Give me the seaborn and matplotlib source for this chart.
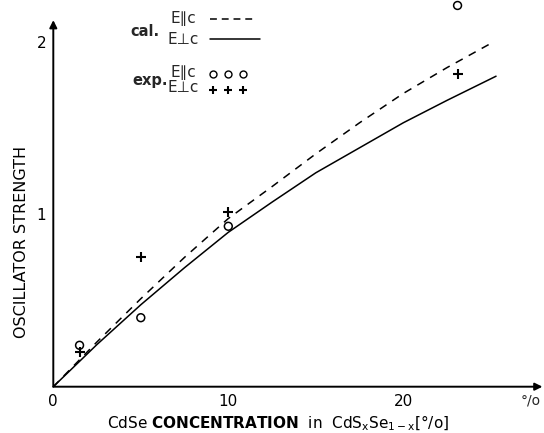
import matplotlib
matplotlib.use("Agg")
import matplotlib.pyplot as plt
import seaborn as sns
import pandas as pd
from matplotlib.lines import Line2D

# ---- data ----
cal_par_x = [0, 2.5, 5, 7.5, 10, 12.5, 15, 17.5, 20, 22.5, 25]
cal_par_y = [0, 0.26, 0.51, 0.75, 0.975, 1.16, 1.35, 1.53, 1.70, 1.85, 1.99]
cal_perp_x = [0, 2.5, 5, 7.5, 10, 12.5, 15, 17.5, 20, 22.5, 25.3]
cal_perp_y = [0, 0.245, 0.475, 0.69, 0.895, 1.07, 1.24, 1.385, 1.53, 1.66, 1.80]
exp_x = [1.5, 5.0, 10.0, 23.1]
exp_par_y = [0.24, 0.40, 0.93, 2.21]
exp_perp_y = [0.20, 0.75, 1.01, 1.81]
x_ticks = [0, 10, 20]
y_ticks = [1, 2]

sns.set_theme(style="white")
plt.rcParams['font.family'] = ['DejaVu Sans']
plt.rcParams['mathtext.fontset'] = 'dejavusans'

W, H = 544, 433
fig = plt.figure(figsize=(W / 100, H / 100), dpi=100)
fig.patch.set_facecolor('white')

def fx(px):
    return px / W

def fy(py):
    return 1 - py / H

ax_l, ax_r, ax_b, ax_t = 53.3, 543.3, 386.7, 0.3
ax = fig.add_axes([fx(ax_l), fy(ax_b), (ax_r - ax_l) / W, (ax_b - ax_t) / H])
ax.set_facecolor('white')
ax.set_xlim(0, 28)
ax.set_ylim(0, 2.24)

df_par = pd.DataFrame({'x': cal_par_x, 'y': cal_par_y})
df_perp = pd.DataFrame({'x': cal_perp_x, 'y': cal_perp_y})
sns.lineplot(data=df_par, x='x', y='y', ax=ax, color='black', lw=1.1)
ax.lines[-1].set_dashes((5.2, 4.5))
sns.lineplot(data=df_perp, x='x', y='y', ax=ax, color='black', lw=1.1)

df_exp = pd.DataFrame({'x': exp_x, 'par': exp_par_y, 'perp': exp_perp_y})
sns.scatterplot(data=df_exp, x='x', y='par', ax=ax, marker='o', s=32,
                facecolor='none', edgecolor='black', linewidth=1.1, zorder=5)
sns.scatterplot(data=df_exp, x='x', y='perp', ax=ax, marker='+', s=45,
                color='black', linewidth=1.5, zorder=5)

for sp in ax.spines.values():
    sp.set_visible(False)
ax.grid(False)

# axes with arrows
ax.annotate('', xy=(27.95, 0), xytext=(0, 0), xycoords='data',
            arrowprops=dict(arrowstyle='-|>', lw=1.4, color='black',
                            mutation_scale=11, shrinkA=0, shrinkB=0),
            annotation_clip=False)
ax.annotate('', xy=(0, 2.125), xytext=(0, 0), xycoords='data',
            arrowprops=dict(arrowstyle='-|>', lw=1.4, color='black',
                            mutation_scale=11, shrinkA=0, shrinkB=0),
            annotation_clip=False)

ax.set_xticks(x_ticks)
ax.set_xticklabels([str(t) for t in x_ticks])
ax.set_yticks(y_ticks)
ax.set_yticklabels([str(t) for t in y_ticks])
ax.tick_params(axis='both', direction='out', length=3, width=1.0,
               color='black', labelsize=11, labelcolor='black', pad=2)
ax.tick_params(axis='x', length=0, pad=5)

ax.set_xlabel(r"CdSe $\mathbf{CONCENTRATION}$  in  CdS$_\mathsf{x}$Se$_\mathsf{1-x}$[°/o]",
              fontsize=11, color='black')
ax.xaxis.set_label_coords((278 - ax_l) / (ax_r - ax_l), (ax_b - 423) / (ax_b - ax_t))
ax.xaxis.label.set_va('center')
ax.set_ylabel("OSCILLATOR STRENGTH", fontsize=11.5, color='black')
ax.yaxis.set_label_coords((22 - ax_l) / (ax_r - ax_l), (ax_b - 242) / (ax_b - ax_t))
ax.yaxis.label.set_va('center')

fig.text(fx(541), fy(400), "°/o", fontsize=10, ha='right', va='center')

# legend block
fig.text(fx(145), fy(31), "cal.", fontsize=10.5, weight='semibold', ha='center', va='center')
fig.text(fx(183), fy(19), "E∥c", fontsize=11, ha='center', va='center')
fig.text(fx(183), fy(40), "E⊥c", fontsize=11, ha='center', va='center')
fig.add_artist(Line2D([fx(210), fx(257)], [fy(19), fy(19)], color='black', lw=1.1,
                      dashes=(4.5, 3.2)))
fig.add_artist(Line2D([fx(210), fx(260)], [fy(38.5), fy(38.5)], color='black', lw=1.1))

fig.text(fx(150), fy(81), "exp.", fontsize=10.5, weight='semibold', ha='center', va='center')
fig.text(fx(183), fy(73), "E∥c", fontsize=11, ha='center', va='center')
fig.text(fx(183), fy(88), "E⊥c", fontsize=11, ha='center', va='center')
for px in (213.3, 228.3, 243.3):
    fig.add_artist(Line2D([fx(px)], [fy(74)], marker='o', markersize=5,
                          markerfacecolor='none', markeredgecolor='black',
                          markeredgewidth=1.0, linestyle='none'))
    fig.add_artist(Line2D([fx(px)], [fy(89.5)], marker='+', markersize=6,
                          color='black', markeredgewidth=1.5, linestyle='none'))

fig.savefig("out.png", dpi=100, facecolor='white')
